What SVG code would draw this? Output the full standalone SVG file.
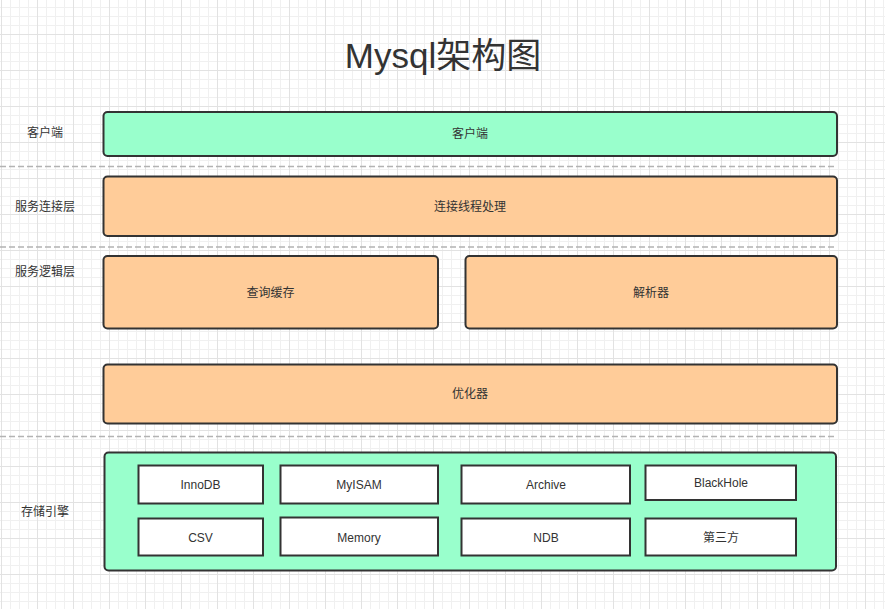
<svg xmlns="http://www.w3.org/2000/svg" width="885" height="609" viewBox="0 0 885 609">
<defs>
<pattern id="minor" x="1" y="7" width="9" height="9" patternUnits="userSpaceOnUse">
<path d="M0.5 0V9M0 0.5H9" stroke="#f0f0f0" stroke-width="1" fill="none"/>
</pattern>
<pattern id="major" x="1" y="34" width="36" height="36" patternUnits="userSpaceOnUse">
<path d="M0.5 0V36M0 0.5H36" stroke="#e2e2e2" stroke-width="1" fill="none"/>
</pattern>
</defs>
<style>
text{font-family:"Liberation Sans","Noto Sans CJK SC",sans-serif;fill:#333;font-size:12px;text-anchor:middle;dominant-baseline:central}
.title{font-size:35px}
.green{fill:#99ffcc;stroke:#333;stroke-width:2}
.orange{fill:#ffcc99;stroke:#333;stroke-width:2}
.white{fill:#fff;stroke:#333;stroke-width:2}
.sep{stroke:#b3b3b3;stroke-width:1.3;stroke-dasharray:6 3;fill:none}
</style>
<rect width="885" height="609" fill="#fff"/>
<rect width="885" height="609" fill="url(#minor)"/>
<rect width="885" height="609" fill="url(#major)"/>

<text class="title" x="443" y="55">Mysql架构图</text>

<g id="labels">
<text x="45" y="133">客户端</text>
<text x="45" y="207">服务连接层</text>
<text x="45" y="272">服务逻辑层</text>
<text x="45" y="512">存储引擎</text>
</g>

<g id="separators">
<line class="sep" x1="0" y1="166.5" x2="837" y2="166.5"/>
<line class="sep" x1="0" y1="247" x2="837" y2="247"/>
<line class="sep" x1="0" y1="436.5" x2="837" y2="436.5"/>
</g>

<g id="client">
<rect class="green" x="103.5" y="112" width="733.5" height="44" rx="4"/>
<text x="470" y="134">客户端</text>
</g>
<g id="conn">
<rect class="orange" x="103.5" y="176.5" width="733.5" height="59.5" rx="4"/>
<text x="470" y="206.5">连接线程处理</text>
</g>
<g id="cache">
<rect class="orange" x="103.5" y="256" width="334.5" height="72.5" rx="4"/>
<text x="270.5" y="293">查询缓存</text>
</g>
<g id="parser">
<rect class="orange" x="465.5" y="256" width="371.5" height="72.5" rx="4"/>
<text x="651" y="293">解析器</text>
</g>
<g id="optimizer">
<rect class="orange" x="103.5" y="364.5" width="733.5" height="59" rx="4"/>
<text x="470" y="394">优化器</text>
</g>
<g id="storage">
<rect class="green" x="104.5" y="452.5" width="731.5" height="118" rx="4"/>
</g>
<g id="innodb">
<rect class="white" x="138.5" y="465.5" width="124.5" height="38"/>
<text x="200.5" y="484.5">InnoDB</text>
</g>
<g id="myisam">
<rect class="white" x="280.5" y="465.5" width="157.5" height="38"/>
<text x="359" y="484.5">MyISAM</text>
</g>
<g id="archive">
<rect class="white" x="461.5" y="465.5" width="168.5" height="38"/>
<text x="546" y="484.5">Archive</text>
</g>
<g id="blackhole">
<rect class="white" x="645.5" y="465.5" width="150.5" height="34.5"/>
<text x="721" y="483">BlackHole</text>
</g>
<g id="csv">
<rect class="white" x="138.5" y="518.5" width="124.5" height="37"/>
<text x="200.5" y="537.5">CSV</text>
</g>
<g id="memory">
<rect class="white" x="280.5" y="517.5" width="157.5" height="38"/>
<text x="359" y="537.5">Memory</text>
</g>
<g id="ndb">
<rect class="white" x="461.5" y="518.5" width="168.5" height="37"/>
<text x="546" y="537.5">NDB</text>
</g>
<g id="third">
<rect class="white" x="645.5" y="518.5" width="150.5" height="37"/>
<text x="721" y="537.5">第三方</text>
</g>
<g id="connectors"></g>
</svg>
